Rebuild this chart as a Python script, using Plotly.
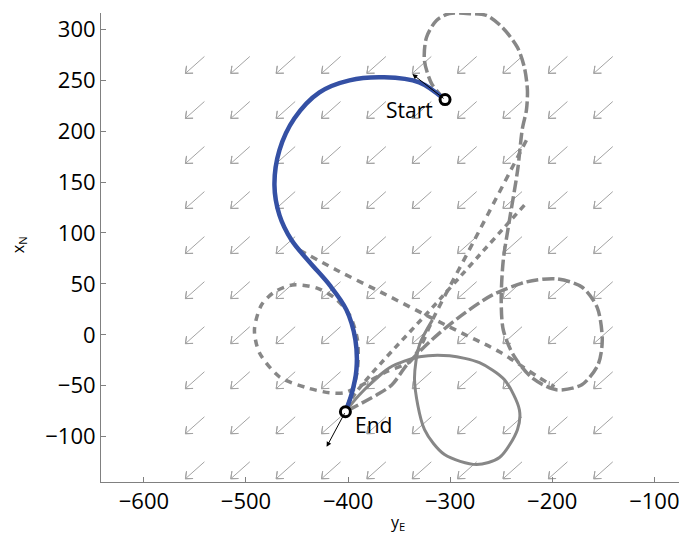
import numpy as np
import plotly.graph_objects as go

# ---------------- data (x = East, y = North) ----------------
start_pt = (-305, 231)
end_pt = (-402.6, -75.5)
start_heading_tip = (-337, 256)
end_heading_tip = (-421, -110)

# optimal path (blue)
blue_x = [-305.8, -330.3, -364.6, -398.6, -428.0, -452.5, -467.2, -472.1, -467.2, -455.4, -437.8, -418.2, -401.6, -392.8, -391.8, -396.7, -402.6]
blue_y = [231.3, 247.9, 252.8, 249.9, 238.1, 212.6, 181.3, 147.0, 117.6, 93.1, 71.5, 49.0, 24.5, -4.9, -34.3, -58.8, -75.5]

# candidate path: top loop, straight south, right-hand loop, to End (long dash)
p1_x = [-305.8, -318.3, -325.2, -323.2, -313.4, -300.7, -284.0, -264.5, -248.8, -234.1, -227.3, -224.3, -225.3, -229.2, -234, -242, -248, -250, -248, -238, -220, -196, -171, -155, -151, -156, -171, -196, -225, -259, -293, -318, -342, -357, -372, -402.6]
p1_y = [231.3, 246.9, 269.5, 292.0, 308.7, 315.5, 315.5, 313.6, 301.8, 282.2, 262.6, 240.1, 220.5, 202.8, 161, 112, 73, 34, 5, -20, -42, -54, -49, -29, -5, 27, 47, 55, 52, 39, 16, -5, -29, -49, -59, -75.5]

# candidate path: straight leg leaving the first left turn (short dash)
p2_x = [-447.6, -411.4, -365.0, -320.3, -286.0, -251.8, -212.6, -197.9]
p2_y = [83.3, 63.7, 40.5, 17.6, 0.5, -16.7, -42.1, -51.0]

# candidate path: diagonal from top loop, left loop, to End (short dash)
p3_x = [-225.3, -276.2, -317.3, -328.1, -339.8, -362.4, -385.9, -403.5, -418.2, -440.7, -467.2, -486.8, -491.7, -484.8, -472.1, -454.5, -431.0, -413.3, -398.6, -390.8, -390.8, -396.7, -402.6]
p3_y = [191.1, 93.1, 14.7, -9.8, -26.5, -36.3, -49.0, -56.8, -56.8, -51.9, -41.2, -17.6, 4.9, 29.4, 42.1, 49.0, 46.1, 36.3, 19.6, -4.9, -34.3, -58.8, -75.5]

# candidate path: diagonal from top loop straight to End (short dash)
p4_x = [-227.3, -310.0, -393.8, -402.6]
p4_y = [127.4, 35.0, -58.8, -75.5]

# candidate path: lower loop (solid)
p5_x = [-317.3, -330.0, -334.9, -325.1, -305.5, -274.2, -251.7, -234.1, -232.2, -246.8, -271.3, -300.5, -330.0, -359.4, -388.8, -402.6]
p5_y = [14.7, -9.8, -44.1, -93.1, -117.6, -127.4, -120.5, -93.1, -73.5, -44.1, -27.4, -20.6, -21.6, -32.3, -58.8, -75.5]

# wind field grid and vector
wind_x = list(np.linspace(-550, -150, 10))
wind_y = list(np.linspace(-133, 265, 10))
wind_u, wind_v = -18.6, -16.6

fig = go.Figure()

# wind arrows (shaft + open head), centred on grid points
ax_, ay_ = [], []
L = np.hypot(wind_u, wind_v)
ang = np.arctan2(wind_v, wind_u)
hl = 0.3 * L
for gx in wind_x:
    for gy in wind_y:
        x0, y0 = gx - wind_u / 2, gy - wind_v / 2
        x1, y1 = gx + wind_u / 2, gy + wind_v / 2
        ax_ += [x0, x1, None]
        ay_ += [y0, y1, None]
        for s in (+1, -1):
            a = ang + np.pi + s * np.radians(40)
            ax_ += [x1, x1 + hl * np.cos(a), x1, None]
            ay_ += [y1, y1 + hl * np.sin(a), y1, None]
fig.add_trace(go.Scatter(x=ax_, y=ay_, mode="lines", line=dict(color="#a3a3a3", width=1), hoverinfo="skip", showlegend=False))

gray = "#878787"
fig.add_trace(go.Scatter(x=p5_x, y=p5_y, mode="lines", line=dict(color=gray, width=3, shape="spline", smoothing=0.8), showlegend=False))
fig.add_trace(go.Scatter(x=p1_x, y=p1_y, mode="lines", line=dict(color=gray, width=3.5, dash="12px,4px", shape="spline", smoothing=0.8), showlegend=False))
fig.add_trace(go.Scatter(x=p2_x, y=p2_y, mode="lines", line=dict(color=gray, width=3.5, dash="7px,6px", shape="spline"), showlegend=False))
fig.add_trace(go.Scatter(x=p3_x, y=p3_y, mode="lines", line=dict(color=gray, width=3.5, dash="7px,6px", shape="spline", smoothing=0.8), showlegend=False))
fig.add_trace(go.Scatter(x=p4_x, y=p4_y, mode="lines", line=dict(color=gray, width=3.5, dash="6px,5px", shape="spline"), showlegend=False))

fig.add_trace(go.Scatter(x=blue_x, y=blue_y, mode="lines", line=dict(color="#3450a4", width=4.5, shape="spline"), showlegend=False))

fig.add_trace(go.Scatter(x=[start_pt[0], end_pt[0]], y=[start_pt[1], end_pt[1]], mode="markers",
                         marker=dict(size=10, color="white", line=dict(color="black", width=3)), showlegend=False))

# heading arrows
fig.add_annotation(x=start_heading_tip[0], y=start_heading_tip[1], ax=start_pt[0], ay=start_pt[1],
                   xref="x", yref="y", axref="x", ayref="y",
                   showarrow=True, arrowhead=2, arrowsize=1, arrowwidth=1, arrowcolor="black", text="")
fig.add_annotation(x=end_heading_tip[0], y=end_heading_tip[1], ax=end_pt[0], ay=end_pt[1],
                   xref="x", yref="y", axref="x", ayref="y",
                   showarrow=True, arrowhead=2, arrowsize=1, arrowwidth=1, arrowcolor="black", text="")
fig.add_annotation(x=-314.4, y=220.5, text="Start", showarrow=False, xanchor="right", yanchor="middle",
                   font=dict(size=21, color="black"))
fig.add_annotation(x=-394.8, y=-88.2, text="End", showarrow=False, xanchor="left", yanchor="middle",
                   font=dict(size=21, color="black"))

# axis titles
fig.add_annotation(x=-350.6, y=0, xref="x", yref="paper", yanchor="middle", yshift=-40,
                   text="y<sub>E</sub>", showarrow=False, font=dict(size=16, color="black"))
fig.add_annotation(x=0, y=88, xref="paper", yref="y", xanchor="center", xshift=-83, textangle=-90,
                   text="x<sub>N</sub>", showarrow=False, font=dict(size=16, color="black"))

axis_common = dict(showgrid=False, zeroline=False, showline=True, linecolor="#808080", linewidth=1,
                   ticks="inside", ticklen=5, tickcolor="#808080", tickfont=dict(size=22, color="black"),
                   mirror=False, automargin=False)
fig.update_xaxes(range=[-642, -68], tickvals=[-600, -500, -400, -300, -200, -100],
                 ticktext=["\u2212600", "\u2212500", "\u2212400", "\u2212300", "\u2212200", "\u2212100"],
                 **axis_common)
fig.update_yaxes(range=[-144.5, 316], tickvals=[-100, -50, 0, 50, 100, 150, 200, 250, 300],
                 ticktext=["\u2212100", "\u221250", "0", "50", "100", "150", "200", "250", "300"],
                 **axis_common)

fig.update_layout(width=679, height=529, margin=dict(l=93, r=0, t=5, b=55),
                  plot_bgcolor="white", paper_bgcolor="white",
                  font=dict(family="Open Sans, Lato, sans-serif"))

fig.write_html("out.html")
